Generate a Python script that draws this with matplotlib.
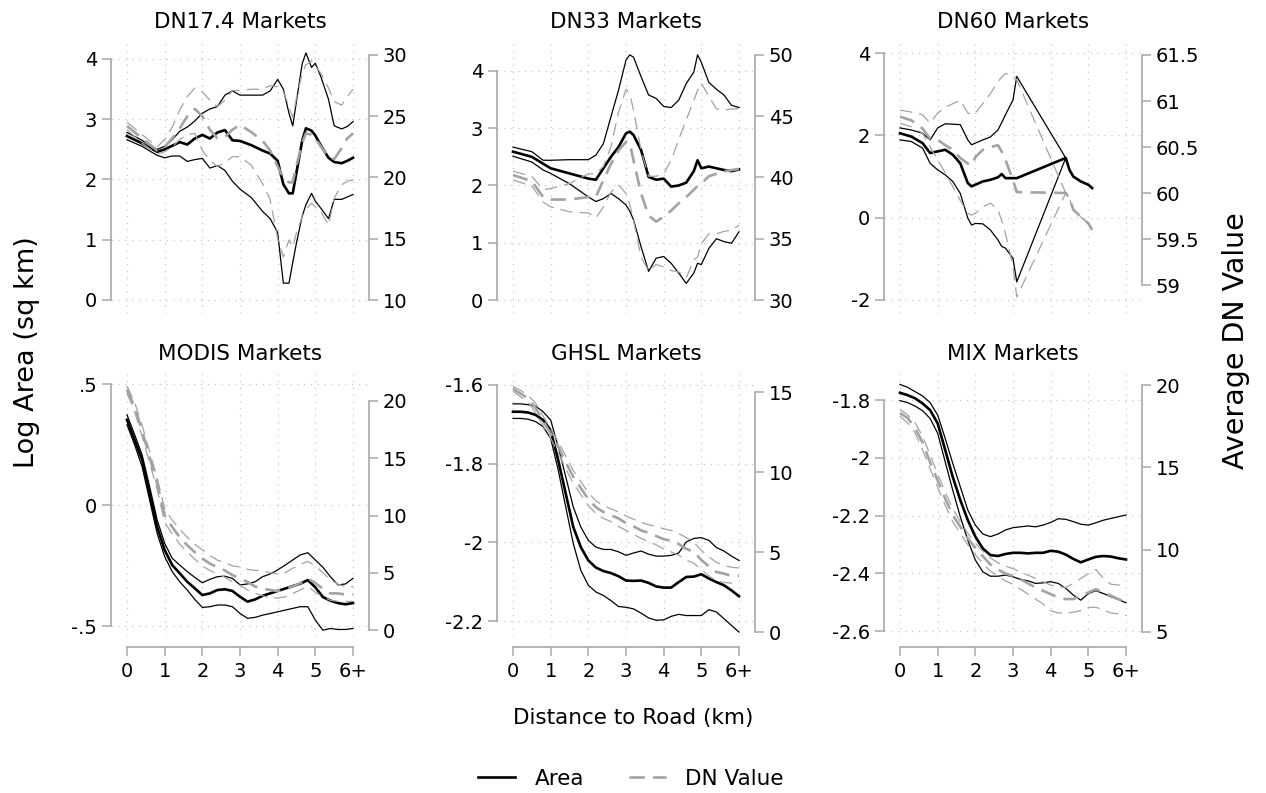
import matplotlib
matplotlib.use('Agg')
import matplotlib.pyplot as plt
from matplotlib.lines import Line2D

W, H = 1266, 793

# ---- DN17.4 markets ----
X_DN17 = [0, 0.4, 0.8, 1.0, 1.2, 1.4, 1.6, 1.8, 2.0, 2.2, 2.4, 2.6, 2.8, 3.0, 3.3, 3.6,
          3.8, 4.0, 4.15, 4.3, 4.4, 4.5, 4.65, 4.75, 4.9, 5.0, 5.15, 5.35, 5.5, 5.7, 5.85, 6.0]
AREA_DN17 = [2.72, 2.60, 2.46, 2.50, 2.56, 2.62, 2.58, 2.68, 2.74, 2.68, 2.78, 2.82, 2.65, 2.64, 2.57, 2.48,
             2.43, 2.31, 1.92, 1.77, 1.77, 2.12, 2.64, 2.85, 2.81, 2.73, 2.56, 2.36, 2.29, 2.27, 2.31, 2.36]
AREA_HI_DN17 = [2.78, 2.65, 2.50, 2.55, 2.66, 2.80, 2.87, 2.97, 3.10, 3.17, 3.21, 3.40, 3.47, 3.40, 3.40, 3.40,
                3.47, 3.66, 3.50, 3.10, 2.89, 3.30, 3.92, 4.10, 3.86, 3.93, 3.70, 3.33, 2.89, 2.84, 2.88, 2.96]
AREA_LO_DN17 = [2.66, 2.55, 2.40, 2.36, 2.39, 2.39, 2.30, 2.33, 2.35, 2.19, 2.23, 2.15, 1.97, 1.84, 1.70, 1.47,
                1.35, 1.12, 0.28, 0.28, 0.62, 0.95, 1.39, 1.58, 1.77, 1.64, 1.52, 1.35, 1.67, 1.67, 1.71, 1.75]
DN_DN17 = [24.2, 23.2, 22.2, 22.5, 23.2, 24.0, 25.0, 25.6, 25.0, 23.9, 23.2, 23.3, 23.9, 24.3, 23.7, 23.0,
           22.2, 20.9, 20.0, 19.6, 19.6, 21.0, 22.8, 23.6, 23.5, 23.2, 22.5, 21.7, 21.5, 22.4, 23.2, 23.6]
DN_HI_DN17 = [24.5, 23.5, 22.5, 23.1, 24.1, 25.5, 26.6, 27.3, 27.0, 26.3, 25.8, 26.3, 27.1, 27.1, 27.2, 27.2,
              27.5, 27.4, 27.0, 25.8, 24.9, 26.5, 28.5, 29.2, 29.5, 29.1, 28.5, 27.3, 26.2, 25.9, 26.6, 27.2]
DN_LO_DN17 = [23.9, 22.8, 21.9, 22.1, 22.5, 23.1, 23.5, 23.6, 22.2, 21.4, 20.9, 21.2, 21.7, 21.7, 21.0, 19.5,
              18.2, 15.0, 13.5, 14.9, 14.3, 15.5, 16.8, 17.4, 17.9, 17.6, 17.2, 16.1, 18.3, 19.4, 19.7, 19.8]

# ---- DN33 markets ----
X_DN33 = [0, 0.5, 0.8, 1.0, 1.5, 2.0, 2.2, 2.4, 2.6, 2.8, 3.0, 3.1, 3.2, 3.4,
          3.6, 3.8, 4.0, 4.2, 4.4, 4.6, 4.8, 4.9, 5.0, 5.2, 5.4, 5.6, 5.8, 6.0]
AREA_DN33 = [2.59, 2.50, 2.38, 2.30, 2.21, 2.12, 2.10, 2.30, 2.50, 2.67, 2.91, 2.94, 2.88, 2.62,
             2.15, 2.10, 2.12, 1.98, 2.00, 2.05, 2.25, 2.44, 2.30, 2.33, 2.30, 2.27, 2.25, 2.28]
AREA_HI_DN33 = [2.67, 2.59, 2.44, 2.44, 2.45, 2.45, 2.53, 2.73, 3.20, 3.66, 4.19, 4.28, 4.24, 3.90,
                3.58, 3.52, 3.38, 3.36, 3.49, 3.78, 3.98, 4.28, 4.15, 3.80, 3.68, 3.58, 3.40, 3.36]
AREA_LO_DN33 = [2.51, 2.41, 2.27, 2.21, 2.03, 1.80, 1.72, 1.77, 1.86, 1.77, 1.66, 1.55, 1.40, 0.93,
                0.50, 0.73, 0.76, 0.64, 0.47, 0.29, 0.47, 0.64, 0.62, 0.90, 1.07, 1.02, 0.99, 1.19]
DN_DN33 = [40.2, 39.7, 38.4, 38.2, 38.2, 38.4, 38.4, 39.8, 41.1, 42.2, 42.9, 42.8, 41.4, 38.7,
           36.9, 36.4, 36.8, 37.3, 37.9, 38.4, 39.0, 39.3, 39.5, 40.1, 40.3, 40.5, 40.6, 40.7]
DN_HI_DN33 = [40.5, 40.1, 39.0, 39.1, 39.5, 40.3, 40.3, 40.9, 42.5, 45.3, 47.2, 46.8, 45.5, 42.2,
              40.1, 40.1, 40.3, 41.4, 43.1, 44.7, 46.3, 47.1, 47.7, 46.6, 45.6, 45.5, 45.6, 45.6]
DN_LO_DN33 = [39.8, 39.3, 38.0, 37.6, 37.2, 37.1, 36.7, 37.6, 38.8, 39.4, 38.7, 37.8, 36.5, 33.5,
              32.4, 32.9, 32.7, 32.4, 32.3, 31.8, 33.3, 33.5, 34.6, 35.4, 35.4, 35.6, 35.7, 36.1]

# ---- DN60 markets (no observations between 3.1 and 4.4 km) ----
X_DN60 = [0, 0.3, 0.6, 0.8, 1.0, 1.2, 1.4, 1.6, 1.8, 1.9, 2.0, 2.2,
          2.4, 2.6, 2.7, 2.8, 3.0, 3.1, 4.4, 4.5, 4.6, 4.8, 5.0, 5.1]
AREA_DN60 = [2.05, 1.97, 1.81, 1.57, 1.61, 1.65, 1.53, 1.32, 0.84, 0.76, 0.80, 0.88,
             0.92, 0.98, 1.06, 0.96, 0.96, 0.96, 1.45, 1.16, 1.00, 0.88, 0.80, 0.72]
AREA_HI_DN60 = [2.18, 2.13, 2.05, 1.89, 2.18, 2.28, 2.27, 2.26, 1.89, 1.77, 1.81, 1.89,
                1.96, 2.13, 2.31, 2.50, 2.86, 3.43, 1.45, 1.16, 1.00, 0.88, 0.80, 0.72]
AREA_LO_DN60 = [1.89, 1.85, 1.69, 1.32, 1.16, 1.04, 0.88, 0.59, -0.01, -0.18, -0.14, -0.15,
                -0.30, -0.54, -0.70, -0.74, -0.99, -1.56, 1.45, 1.16, 1.00, 0.88, 0.80, 0.72]
DN_DN60 = [60.83, 60.79, 60.70, 60.59, 60.58, 60.52, 60.47, 60.38, 60.32, 60.30, 60.39, 60.47,
           60.50, 60.52, 60.45, 60.36, 60.14, 60.01, 60.00, 59.94, 59.82, 59.74, 59.67, 59.60]
DN_HI_DN60 = [60.90, 60.88, 60.85, 60.76, 60.87, 60.93, 60.97, 61.01, 60.87, 60.85, 60.87, 60.97,
              61.08, 61.21, 61.26, 61.30, 61.28, 61.23, 60.00, 59.94, 59.82, 59.74, 59.67, 59.60]
DN_LO_DN60 = [60.76, 60.72, 60.65, 60.50, 60.36, 60.22, 60.07, 59.92, 59.78, 59.76, 59.78, 59.85,
              59.89, 59.82, 59.70, 59.56, 59.20, 58.87, 60.00, 59.94, 59.82, 59.74, 59.67, 59.60]

# ---- MODIS / GHSL / MIX markets share one distance grid ----
X_FINE = [0, 0.2, 0.4, 0.6, 0.8, 1.0, 1.2, 1.4, 1.6, 1.8, 2.0, 2.2, 2.4, 2.6, 2.8, 3.0,
          3.2, 3.4, 3.6, 3.8, 4.0, 4.2, 4.4, 4.6, 4.8, 5.0, 5.2, 5.4, 5.6, 5.8, 6.0]

AREA_MODIS = [0.352, 0.270, 0.187, 0.049, -0.089, -0.186, -0.248, -0.282, -0.317, -0.344, -0.372,
              -0.365, -0.351, -0.348, -0.355, -0.379, -0.399, -0.390, -0.375, -0.365, -0.355,
              -0.345, -0.335, -0.325, -0.310, -0.340, -0.380, -0.395, -0.405, -0.410, -0.405]
AREA_HI_MODIS = [0.373, 0.292, 0.208, 0.077, -0.061, -0.158, -0.220, -0.248, -0.275, -0.299, -0.321,
                 -0.307, -0.296, -0.294, -0.303, -0.330, -0.326, -0.317, -0.296, -0.285, -0.268,
                 -0.248, -0.227, -0.206, -0.197, -0.227, -0.257, -0.296, -0.330, -0.326, -0.303]
AREA_LO_MODIS = [0.332, 0.250, 0.159, 0.021, -0.117, -0.213, -0.275, -0.317, -0.351, -0.390, -0.423,
                 -0.420, -0.413, -0.413, -0.420, -0.448, -0.468, -0.464, -0.455, -0.448, -0.441,
                 -0.434, -0.427, -0.420, -0.420, -0.475, -0.517, -0.510, -0.514, -0.514, -0.510]
DN_MODIS = [21.0, 19.5, 17.4, 15.1, 12.8, 10.0, 9.0, 8.1, 7.4, 6.8, 6.25, 5.8, 5.5, 5.2, 4.8, 4.5,
            4.2, 3.8, 3.6, 3.5, 3.4, 3.6, 3.8, 4.1, 4.5, 4.1, 3.6, 3.2, 3.2, 3.1, 3.1]
DN_HI_MODIS = [21.3, 19.9, 17.9, 15.6, 13.3, 10.6, 9.6, 8.8, 8.1, 7.5, 7.0, 6.5, 6.1, 5.9, 5.6, 5.5,
               5.3, 5.2, 5.2, 5.0, 4.9, 5.0, 5.4, 5.7, 6.0, 5.6, 5.0, 4.4, 4.0, 3.8, 3.8]
DN_LO_MODIS = [20.7, 19.1, 16.9, 14.6, 12.3, 9.4, 8.4, 7.5, 6.8, 6.2, 5.6, 5.2, 4.9, 4.6, 4.2, 3.9,
               3.5, 3.2, 3.0, 2.8, 2.8, 2.9, 3.2, 3.5, 3.8, 3.3, 2.9, 2.6, 2.5, 2.5, 2.5]

AREA_GHSL = [-1.668, -1.668, -1.670, -1.676, -1.689, -1.715, -1.791, -1.876, -1.961, -2.012, -2.046,
             -2.064, -2.073, -2.078, -2.086, -2.097, -2.098, -2.097, -2.103, -2.112, -2.115,
             -2.115, -2.101, -2.088, -2.087, -2.081, -2.092, -2.101, -2.109, -2.122, -2.137]
AREA_HI_GHSL = [-1.648, -1.648, -1.650, -1.654, -1.668, -1.689, -1.757, -1.833, -1.910, -1.961, -1.995,
                -2.012, -2.018, -2.018, -2.024, -2.033, -2.027, -2.022, -2.030, -2.035, -2.035,
                -2.033, -2.027, -1.999, -1.990, -1.988, -1.995, -2.013, -2.022, -2.035, -2.046]
AREA_LO_GHSL = [-1.685, -1.685, -1.687, -1.693, -1.706, -1.736, -1.816, -1.910, -2.003, -2.071, -2.109,
                -2.126, -2.135, -2.148, -2.163, -2.165, -2.169, -2.180, -2.192, -2.198, -2.197,
                -2.188, -2.183, -2.186, -2.186, -2.186, -2.171, -2.177, -2.194, -2.211, -2.228]
DN_GHSL = [15.2, 14.9, 14.6, 14.0, 13.2, 12.4, 11.6, 10.6, 9.7, 9.0, 8.3, 7.8, 7.5, 7.3, 7.1, 6.8,
           6.6, 6.35, 6.2, 6.0, 5.8, 5.7, 5.5, 5.2, 5.0, 4.5, 4.1, 3.75, 3.65, 3.5, 3.5]
DN_HI_GHSL = [15.35, 15.1, 14.8, 14.3, 13.5, 12.7, 11.9, 11.0, 10.1, 9.4, 8.7, 8.2, 7.9, 7.7, 7.5, 7.25,
              7.05, 6.85, 6.7, 6.6, 6.45, 6.35, 6.15, 5.9, 5.6, 5.1, 4.7, 4.35, 4.15, 4.05, 4.0]
DN_LO_GHSL = [15.05, 14.7, 14.4, 13.7, 12.9, 12.1, 11.2, 10.2, 9.3, 8.6, 7.9, 7.4, 7.1, 6.9, 6.6, 6.35,
              6.1, 5.85, 5.65, 5.45, 5.2, 5.0, 4.8, 4.5, 4.3, 3.9, 3.5, 3.2, 3.1, 3.05, 3.0]

AREA_MIX = [-1.775, -1.783, -1.794, -1.812, -1.835, -1.881, -1.973, -2.066, -2.146, -2.216, -2.273,
            -2.314, -2.337, -2.340, -2.333, -2.329, -2.329, -2.331, -2.329, -2.329, -2.322,
            -2.325, -2.335, -2.350, -2.362, -2.352, -2.343, -2.340, -2.342, -2.348, -2.352]
AREA_HI_MIX = [-1.746, -1.756, -1.771, -1.786, -1.809, -1.852, -1.933, -2.019, -2.100, -2.181, -2.233,
               -2.264, -2.273, -2.264, -2.250, -2.242, -2.239, -2.236, -2.239, -2.233, -2.224,
               -2.211, -2.213, -2.221, -2.230, -2.233, -2.225, -2.216, -2.210, -2.204, -2.198]
AREA_LO_MIX = [-1.802, -1.809, -1.821, -1.837, -1.864, -1.915, -2.014, -2.112, -2.204, -2.285, -2.354,
               -2.395, -2.410, -2.410, -2.406, -2.412, -2.421, -2.426, -2.435, -2.433, -2.429,
               -2.435, -2.452, -2.475, -2.493, -2.470, -2.460, -2.470, -2.481, -2.491, -2.502]
DN_MIX = [18.3, 18.0, 17.4, 16.5, 15.3, 14.2, 13.1, 12.1, 11.4, 10.7, 10.1, 9.6, 9.1, 8.8, 8.55, 8.4,
          8.2, 7.95, 7.7, 7.5, 7.3, 7.1, 7.0, 7.0, 7.2, 7.4, 7.6, 7.4, 7.2, 7.0, 6.8]
DN_HI_MIX = [18.5, 18.2, 17.7, 16.9, 15.75, 14.6, 13.5, 12.5, 11.7, 11.0, 10.4, 9.9, 9.5, 9.2, 9.0, 8.85,
             8.65, 8.45, 8.25, 8.05, 7.85, 7.75, 7.7, 7.95, 8.25, 8.55, 8.8, 8.25, 7.9, 7.85, 7.85]
DN_LO_MIX = [18.1, 17.7, 17.1, 16.05, 14.9, 13.8, 12.7, 11.7, 11.0, 10.3, 9.7, 9.15, 8.7, 8.4, 8.1, 7.9,
             7.6, 7.3, 7.0, 6.7, 6.3, 6.15, 6.15, 6.2, 6.3, 6.5, 6.5, 6.35, 6.15, 6.1, 6.0]

X_TICKS = [0, 1, 2, 3, 4, 5, 6]
X_TICK_LABELS = ['0', '1', '2', '3', '4', '5', '6+']

# Styling
AREA_COLOR = 'black'
DN_COLOR = '#a3a3a3'
AXIS_COLOR = '#a8a8a8'
GRID_COLOR = '#c8c8c8'
THICK, THIN = 1.9, 0.9
TICK_SIZE = 14

# Layout in pixels (plot regions)
X_LO, X_HI = -0.42, 6.42
PX_PER_KM = 226 / 6.0
COL_X0 = [127, 513, 900]
ROW_Y = [(40, 313), (372, 636)]

fig = plt.figure(figsize=(W / 100, H / 100), dpi=100)


def dashed(lw, on, off):
    return (on / lw, off / lw)


def draw_panel(row, col, title, x, area, area_hi, area_lo, dn, dn_hi, dn_lo,
               ylim_l, ticks_l, labels_l, ylim_r, ticks_r, labels_r):
    x0 = COL_X0[col]
    left = x0 + X_LO * PX_PER_KM
    right = x0 + X_HI * PX_PER_KM
    top, bottom = ROW_Y[row]
    ax = fig.add_axes([left / W, 1 - bottom / H, (right - left) / W, (bottom - top) / H])
    ax2 = ax.twinx()

    # Area (left axis)
    ax.plot(x, area_hi, color=AREA_COLOR, lw=THIN, zorder=3)
    ax.plot(x, area_lo, color=AREA_COLOR, lw=THIN, zorder=3)
    ax.plot(x, area, color=AREA_COLOR, lw=THICK, zorder=4)

    # DN value (right axis)
    ax2.plot(x, dn_hi, color=DN_COLOR, lw=THIN, dashes=dashed(THIN, 9, 5))
    ax2.plot(x, dn_lo, color=DN_COLOR, lw=THIN, dashes=dashed(THIN, 9, 5))
    ax2.plot(x, dn, color=DN_COLOR, lw=THICK, dashes=dashed(THICK, 11, 6))

    ax.set_xlim(X_LO, X_HI)
    ax.set_ylim(*ylim_l)
    ax2.set_ylim(*ylim_r)

    ax.set_yticks(ticks_l)
    ax.set_yticklabels(labels_l)
    ax2.set_yticks(ticks_r)
    ax2.set_yticklabels(labels_r)
    ax.set_xticks(X_TICKS)

    for a in (ax, ax2):
        for s in a.spines.values():
            s.set_visible(False)
            s.set_color(AXIS_COLOR)
            s.set_linewidth(1.2)
    ax.spines['left'].set_visible(True)
    ax.spines['left'].set_bounds(min(ticks_l), max(ticks_l))
    ax2.spines['right'].set_visible(True)
    ax2.spines['right'].set_bounds(min(ticks_r), max(ticks_r))

    ax.tick_params(axis='y', direction='out', length=6.5, width=1.1, color=AXIS_COLOR,
                   labelsize=TICK_SIZE, pad=3.5, labelcolor='black')
    ax2.tick_params(axis='y', direction='out', length=6.5, width=1.1, color=AXIS_COLOR,
                    labelsize=TICK_SIZE, pad=3.5, labelcolor='black')

    if row == 1:
        ax.spines['bottom'].set_visible(True)
        ax.spines['bottom'].set_position(('outward', 8))
        ax.spines['bottom'].set_bounds(0, 6)
        ax.set_xticklabels(X_TICK_LABELS)
        ax.tick_params(axis='x', direction='out', length=6.5, width=1.1, color=AXIS_COLOR,
                       labelsize=TICK_SIZE, pad=4, labelcolor='black')
    else:
        ax.tick_params(axis='x', length=0, labelbottom=False)

    ax.grid(True, color=GRID_COLOR, lw=0.9, linestyle=(0, (1, 4.5)))
    ax.set_axisbelow(True)
    ax.set_title(title, fontsize=15.5, pad=8.5)


draw_panel(0, 0, 'DN17.4 Markets', X_DN17, AREA_DN17, AREA_HI_DN17, AREA_LO_DN17,
           DN_DN17, DN_HI_DN17, DN_LO_DN17,
           (-0.216, 4.315), [0, 1, 2, 3, 4], ['0', '1', '2', '3', '4'],
           (8.94, 31.22), [10, 15, 20, 25, 30], ['10', '15', '20', '25', '30'])
draw_panel(0, 1, 'DN33 Markets', X_DN33, AREA_DN33, AREA_HI_DN33, AREA_LO_DN33,
           DN_DN33, DN_HI_DN33, DN_LO_DN33,
           (-0.227, 4.54), [0, 1, 2, 3, 4], ['0', '1', '2', '3', '4'],
           (28.94, 51.22), [30, 35, 40, 45, 50], ['30', '35', '40', '45', '50'])
draw_panel(0, 2, 'DN60 Markets', X_DN60, AREA_DN60, AREA_HI_DN60, AREA_LO_DN60,
           DN_DN60, DN_HI_DN60, DN_LO_DN60,
           (-2.316, 4.316), [-2, 0, 2, 4], ['-2', '0', '2', '4'],
           (58.696, 61.663), [59, 59.5, 60, 60.5, 61, 61.5], ['59', '59.5', '60', '60.5', '61', '61.5'])
draw_panel(1, 0, 'MODIS Markets', X_FINE, AREA_MODIS, AREA_HI_MODIS, AREA_LO_MODIS,
           DN_MODIS, DN_HI_MODIS, DN_LO_MODIS,
           (-0.541, 0.5496), [-0.5, 0, 0.5], ['-.5', '0', '.5'],
           (-0.52, 22.53), [0, 5, 10, 15, 20], ['0', '5', '10', '15', '20'])
draw_panel(1, 1, 'GHSL Markets', X_FINE, AREA_GHSL, AREA_HI_GHSL, AREA_LO_GHSL,
           DN_GHSL, DN_HI_GHSL, DN_LO_GHSL,
           (-2.238, -1.567), [-2.2, -2.0, -1.8, -1.6], ['-2.2', '-2', '-1.8', '-1.6'],
           (-0.25, 16.25), [0, 5, 10, 15], ['0', '5', '10', '15'])
draw_panel(1, 2, 'MIX Markets', X_FINE, AREA_MIX, AREA_HI_MIX, AREA_LO_MIX,
           DN_MIX, DN_HI_MIX, DN_LO_MIX,
           (-2.617, -1.703), [-2.6, -2.4, -2.2, -2.0, -1.8], ['-2.6', '-2.4', '-2.2', '-2', '-1.8'],
           (4.757, 20.79), [5, 10, 15, 20], ['5', '10', '15', '20'])

# Shared labels
fig.text(633 / W, 1 - 718 / H, 'Distance to Road (km)', ha='center', va='center', fontsize=15.5)
fig.text(27 / W, 1 - 352 / H, 'Log Area (sq km)', rotation=90, ha='center', va='center', fontsize=19.5)
fig.text(1236 / W, 1 - 341 / H, 'Average DN Value', rotation=90, ha='center', va='center', fontsize=20.5)

handles = [Line2D([], [], color=AREA_COLOR, lw=THICK),
           Line2D([], [], color=DN_COLOR, lw=THICK, dashes=dashed(THICK, 11, 6))]
fig.legend(handles, ['Area', 'DN Value'], loc='center', bbox_to_anchor=(631 / W, 1 - 779 / H),
           ncol=2, frameon=False, fontsize=15.5, handlelength=1.7, handletextpad=0.9,
           columnspacing=2.1)

fig.savefig('out.png', dpi=100, facecolor='white')
